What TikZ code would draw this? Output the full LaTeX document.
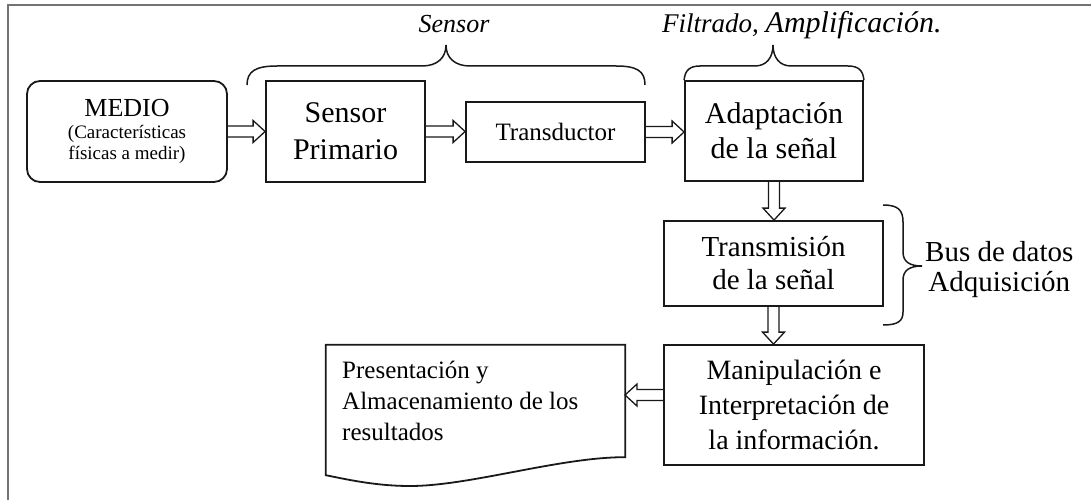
\documentclass[tikz,border=0pt]{standalone}
\usepackage{fontspec}
\setmainfont{Liberation Serif}
\usetikzlibrary{calc}
\begin{document}
\begin{tikzpicture}[x=1pt,y=-1pt,
  box/.style={draw=black!90, line width=1.8pt, inner sep=0pt, align=center},
  bracestyle/.style={draw=black!90, line width=1.5pt},
  harrow/.style={draw=black!90, line width=1.3pt, line join=miter,
    to path={let \p1=(\tikztostart), \p2=(\tikztotarget),
      \n1={atan2(\y2-\y1,\x2-\x1)} in
      ($(\p1)+(\n1+90:5.5pt)$) -- ($(\p2)+(\n1+180:12pt)+(\n1+90:5.5pt)$)
      -- ($(\p2)+(\n1+180:12pt)+(\n1+90:11pt)$) -- (\p2)
      -- ($(\p2)+(\n1+180:12pt)+(\n1-90:11pt)$)
      -- ($(\p2)+(\n1+180:12pt)+(\n1-90:5.5pt)$)
      -- ($(\p1)+(\n1-90:5.5pt)$)}},
  lbl/.style={inner sep=0pt, align=center}
]
\useasboundingbox (0,0) rectangle (1091,500);
% frame
\draw[black!55, line width=1.5pt] (8,500) -- (8,5) -- (1091,5);

% boxes
\node[box, rounded corners=13pt, minimum width=200pt, minimum height=101pt,
  font=\fontsize{19}{21}\selectfont] (medio) at (127,131.5)
  {{\fontsize{26}{26}\selectfont MEDIO}\\[1pt](Características\\físicas a medir)};
\node[box, minimum width=159pt, minimum height=101pt,
  font=\fontsize{30}{37}\selectfont] (sp) at (345.5,131.5) {Sensor\\Primario};
\node[box, minimum width=179pt, minimum height=60pt,
  font=\fontsize{25}{30}\selectfont] (trans) at (555.5,132) {Transductor};
\node[box, minimum width=178pt, minimum height=100pt,
  font=\fontsize{30}{35}\selectfont] (adapt) at (774,131) {Adaptación\\de la señal};
\node[box, minimum width=219pt, minimum height=85pt,
  font=\fontsize{29}{33}\selectfont] (transm) at (773.5,263.5) {Transmisión\\de la señal};
\node[box, minimum width=260pt, minimum height=120pt,
  font=\fontsize{28}{35}\selectfont] (manip) at (794,405)
  {Manipulación e\\Interpretación de\\la información.};
\node[minimum width=299pt, minimum height=130pt, inner sep=0pt] (pres) at (475.5,410) {};
\draw[box, line join=miter] (pres.north west) -- (pres.north east)
  -- ($(pres.south east)+(0,-18)$)
  .. controls (560,457) and (470,486) .. (410,486)
  .. controls (375,486) and (345,479) .. (pres.south west) -- cycle;
\node[lbl, anchor=north west, align=left, font=\fontsize{25}{31}\selectfont]
  (prest) at (342,361) {Presentación y\\Almacenamiento de los\\resultados};

% arrows
\coordinate (pin) at (625,395);
\draw[harrow] (medio.east) to (sp.west);
\draw[harrow] (sp.east) to (sp.east -| trans.west);
\draw[harrow] (trans.east) to (trans.east -| adapt.west);
\draw[harrow] (adapt.south) to (adapt.south |- transm.north);
\draw[harrow] (transm.south) to (transm.south |- manip.north);
\draw[harrow] (manip.west |- pin) to (pin);

% braces
\draw[bracestyle] (247,85) .. controls (247,71) and (256,66) .. (277,66)
  -- (422,66) .. controls (437,66) and (446,58) .. (446,45)
  .. controls (446,58) and (455,66) .. (470,66)
  -- (616,66) .. controls (637,66) and (645,71) .. (645,85);
\draw[bracestyle] (adapt.north west) .. controls (685,70) and (690,66) .. (700,66)
  -- (755,66) .. controls (766,66) and (773,58) .. (773,45)
  .. controls (773,58) and (780,66) .. (791,66)
  -- (848,66) .. controls (858,66) and (863,70) .. (adapt.north east);
\draw[bracestyle] (883,205) .. controls (898,205) and (903,210) .. (903,222)
  -- (903,252) .. controls (903,262) and (910,266) .. (922,266)
  .. controls (910,266) and (903,270) .. (903,280)
  -- (903,312) .. controls (903,321) and (898,325) .. (883,325);

% labels
\node[lbl, anchor=base, font=\itshape\fontsize{26}{30}\selectfont] (lsensor) at (454,33) {Sensor};
\node[lbl, anchor=base west, font=\itshape\fontsize{27}{30}\selectfont] (lfilt) at (662,33)
  {Filtrado, {\fontsize{30}{30}\selectfont Amplificación.}};
\node[lbl, anchor=west, font=\fontsize{29}{30}\selectfont] (lbus) at (925,270)
  {Bus de datos\\Adquisición};
\end{tikzpicture}
\end{document}
